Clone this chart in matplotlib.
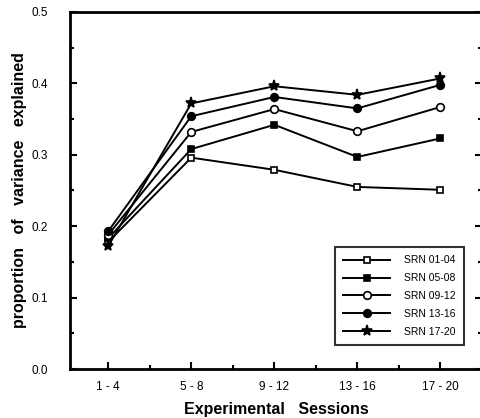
import matplotlib.pyplot as plt
from matplotlib.ticker import MultipleLocator

sessions = ["1 - 4", "5 - 8", "9 - 12", "13 - 16", "17 - 20"]
series_names = ["SRN 01-04", "SRN 05-08", "SRN 09-12", "SRN 13-16", "SRN 17-20"]
srn_01_04 = [0.178, 0.296, 0.279, 0.255, 0.251]
srn_05_08 = [0.183, 0.308, 0.342, 0.297, 0.323]
srn_09_12 = [0.188, 0.332, 0.364, 0.333, 0.367]
srn_13_16 = [0.193, 0.354, 0.381, 0.365, 0.398]
srn_17_20 = [0.172, 0.372, 0.396, 0.384, 0.407]

series = [srn_01_04, srn_05_08, srn_09_12, srn_13_16, srn_17_20]
styles = [
    dict(marker="s", mfc="white", ms=5),
    dict(marker="s", mfc="black", ms=5),
    dict(marker="o", mfc="white", ms=5.5),
    dict(marker="o", mfc="black", ms=5.5),
    dict(marker="*", mfc="black", ms=8),
]

plt.rcParams["font.family"] = ["Liberation Sans", "DejaVu Sans"]

fig = plt.figure(figsize=(4.8, 4.18), dpi=100)
ax = fig.add_axes([70 / 480, 1 - 369 / 418, 412 / 480, 357 / 418])

x = list(range(len(sessions)))
for name, vals, st in zip(series_names, series, styles):
    ax.plot(x, vals, color="black", lw=1.4, mec="black", mew=1.2,
            label=name, **st)

ax.set_xlim(-0.46, 4.5)
ax.set_ylim(0, 0.5)
ax.set_xticks(x)
ax.set_xticklabels(sessions)
ax.xaxis.set_minor_locator(MultipleLocator(0.5))
ax.yaxis.set_major_locator(MultipleLocator(0.1))
ax.yaxis.set_minor_locator(MultipleLocator(0.05))
ax.set_yticklabels([f"{v:.1f}" for v in ax.get_yticks()])
ax.tick_params(which="both", direction="in", width=1.5, labelsize=8.5,
               right=True, top=False)
ax.tick_params(which="major", length=5)
ax.tick_params(which="minor", length=3)
ax.tick_params(axis="x", pad=9)
ax.tick_params(axis="y", pad=16)
for s in ax.spines.values():
    s.set_linewidth(2)

ax.set_xlabel("Experimental   Sessions", fontsize=11.5, fontweight="bold",
              labelpad=6)
ax.set_ylabel("proportion   of   variance   explained", fontsize=11.5,
              fontweight="bold", labelpad=3)

leg = ax.legend(loc="lower right", bbox_to_anchor=(0.956, 0.067),
                fontsize=7.5, frameon=True, fancybox=False, edgecolor="black",
                handlelength=4.5, borderpad=0.8, labelspacing=0.75,
                handletextpad=1.3, borderaxespad=0)
leg.get_frame().set_linewidth(1.5)

fig.savefig("out.png", dpi=100)
